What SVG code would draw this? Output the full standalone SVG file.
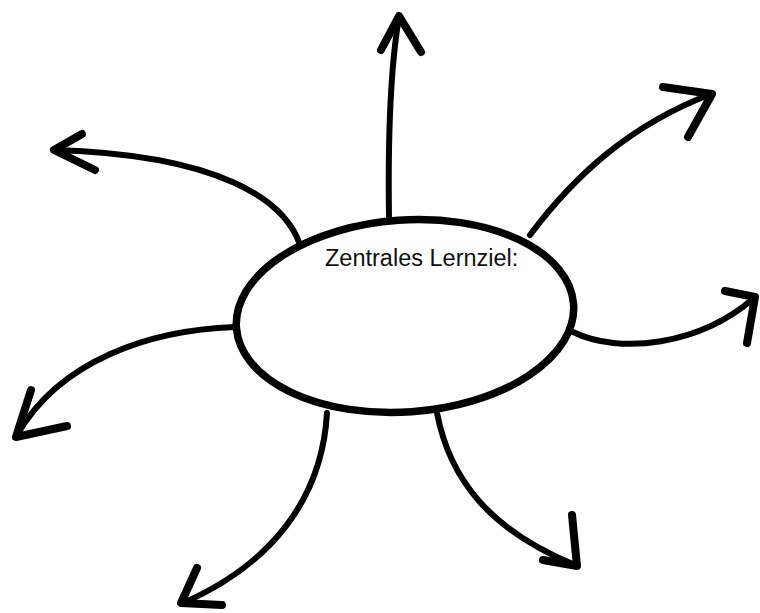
<svg xmlns="http://www.w3.org/2000/svg" width="760" height="613" viewBox="0 0 760 613">
<style>
.c{fill:none;stroke:#000;stroke-width:6;stroke-linecap:round;stroke-linejoin:round}
.h{fill:none;stroke:#000;stroke-width:8;stroke-linecap:round;stroke-linejoin:round}
.t{font-family:"Liberation Sans",Arial,sans-serif;font-size:23.5px;fill:#111}
</style>
<rect width="760" height="613" fill="#fff"/>
<g id="connectors">
<path class="c" d="M300,245 C285,200 220,155 55,150"/>
<polyline class="h" points="82,134 54,150 95,170"/>
<path class="c" d="M389,218 C388,150 390,70 399,17"/>
<polyline class="h" points="381,50 399,16 421,52"/>
<path class="c" d="M530,235 C575,175 630,125 711,94"/>
<polyline class="h" points="663,87 712,94 688,137"/>
<path class="c" d="M573,332 C620,355 700,345 754,298"/>
<polyline class="h" points="725,291 755,297 747,343"/>
<path class="c" d="M235,327 C150,330 60,360 17,435"/>
<polyline class="h" points="31,390 16,437 67,426"/>
<path class="c" d="M327,413 C322,500 270,565 183,603"/>
<polyline class="h" points="197,568 181,603 222,605"/>
<path class="c" d="M437,413 C450,480 490,530 575,565"/>
<polyline class="h" points="572,515 577,566 543,560"/>
</g>
<g id="center">
<ellipse cx="405" cy="316" rx="169" ry="96" transform="rotate(-4 405 316)" fill="#fff" stroke="#000" stroke-width="7.5"/>
<text class="t" x="325" y="266">Zentrales Lernziel:</text>
</g>
</svg>
